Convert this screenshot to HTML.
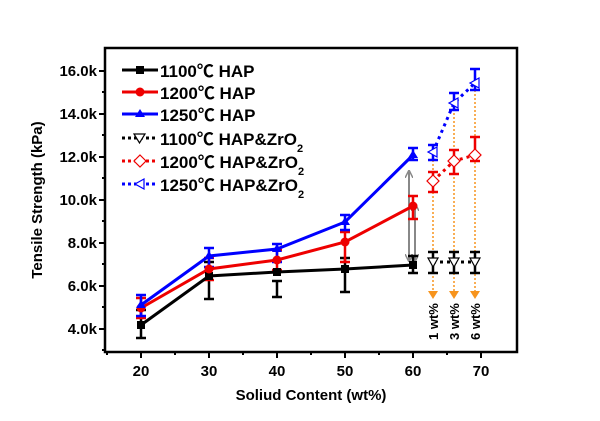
<!DOCTYPE html>
<html><head><meta charset="utf-8"><style>
body{margin:0;background:#fff}
svg{display:block;font-family:"Liberation Sans","Noto Sans CJK SC",sans-serif;font-weight:bold}
</style></head><body>
<svg width="600" height="421" viewBox="0 0 600 421">
<defs>
<marker id="ao" markerUnits="userSpaceOnUse" markerWidth="8" markerHeight="10" refX="4" refY="5" orient="auto"><path d="M0,0L8,5L0,10z" fill="#f7941d"/></marker>
<marker id="ag" markerUnits="userSpaceOnUse" markerWidth="8" markerHeight="8" refX="6" refY="4" orient="auto-start-reverse"><path d="M0,0L8,4L0,8" fill="none" stroke="#888" stroke-width="1.5"/></marker>
</defs>
<rect x="105" y="48" width="412" height="304" fill="none" stroke="#000" stroke-width="2.5"/>
<g stroke="#000" stroke-width="2">
<line x1="141" y1="352" x2="141" y2="358"/><line x1="209" y1="352" x2="209" y2="358"/><line x1="277" y1="352" x2="277" y2="358"/><line x1="345" y1="352" x2="345" y2="358"/><line x1="413" y1="352" x2="413" y2="358"/><line x1="481" y1="352" x2="481" y2="358"/>
<line x1="175" y1="352" x2="175" y2="355"/><line x1="243" y1="352" x2="243" y2="355"/><line x1="311" y1="352" x2="311" y2="355"/><line x1="379" y1="352" x2="379" y2="355"/><line x1="447" y1="352" x2="447" y2="355"/><line x1="107" y1="352" x2="107" y2="355"/>
<line x1="99" y1="71" x2="105" y2="71"/><line x1="99" y1="114" x2="105" y2="114"/><line x1="99" y1="157" x2="105" y2="157"/><line x1="99" y1="200" x2="105" y2="200"/><line x1="99" y1="243" x2="105" y2="243"/><line x1="99" y1="286" x2="105" y2="286"/><line x1="99" y1="329" x2="105" y2="329"/>
<line x1="102" y1="92" x2="105" y2="92"/><line x1="102" y1="135" x2="105" y2="135"/><line x1="102" y1="178" x2="105" y2="178"/><line x1="102" y1="221" x2="105" y2="221"/><line x1="102" y1="264" x2="105" y2="264"/><line x1="102" y1="307" x2="105" y2="307"/><line x1="102" y1="350" x2="105" y2="350"/>
</g>
<g font-size="15" text-anchor="middle">
<text x="141" y="376">20</text><text x="209" y="376">30</text><text x="277" y="376">40</text><text x="345" y="376">50</text><text x="413" y="376">60</text><text x="481" y="376">70</text>
</g>
<g font-size="15" text-anchor="end">
<text x="97" y="76">16.0k</text><text x="97" y="119">14.0k</text><text x="97" y="162">12.0k</text><text x="97" y="205">10.0k</text><text x="97" y="248">8.0k</text><text x="97" y="291">6.0k</text><text x="97" y="334">4.0k</text>
</g>
<text x="311" y="400" font-size="15" text-anchor="middle">Soliud Content (wt%)</text>
<text transform="translate(42,200) rotate(-90)" font-size="15" text-anchor="middle">Tensile Strength (kPa)</text>

<g stroke="#f7941d" stroke-width="1.5" stroke-dasharray="2,2" marker-end="url(#ao)">
<line x1="433" y1="152" x2="433" y2="295"/><line x1="454" y1="105" x2="454" y2="295"/><line x1="475" y1="70" x2="475" y2="295"/>
</g>
<g font-size="13" font-weight="bold">
<text transform="translate(438,340) rotate(-90)">1 wt%</text>
<text transform="translate(459,340) rotate(-90)">3 wt%</text>
<text transform="translate(480,340) rotate(-90)">6 wt%</text>
</g>
<g stroke="#888" stroke-width="2" marker-end="url(#ag)" marker-start="url(#ag)">
<line x1="409" y1="172" x2="409" y2="260"/><line x1="415" y1="205" x2="415" y2="260"/>
</g>

<g stroke-width="2.5">
<g stroke="#000"><path d="M141,310V338M136,310h10M136,338h10 M209,262V299M204,262h10M204,299h10 M277,281V297M272,281h10M272,297h10 M345,258V292M340,258h10M340,292h10 M413,256V273M408,256h10M408,273h10"/></g>
<g stroke="#e00"><path d="M141,298V318M136,298h10M136,318h10 M209,258V280M204,258h10M204,280h10 M277,250V270M272,250h10M272,270h10 M345,232V262M340,232h10M340,262h10 M413,196V219M408,196h10M408,219h10"/></g>
<g stroke="#00f"><path d="M141,295V316M136,295h10M136,316h10 M209,248V267M204,248h10M204,267h10 M277,244V262M272,244h10M272,262h10 M345,215V230M340,215h10M340,230h10 M413,148V160M408,148h10M408,160h10"/></g>
</g>
<polyline points="141,325 209,276 277,272 345,269 413,265" fill="none" stroke="#000" stroke-width="3"/>
<polyline points="141,308 209,269 277,260 345,242 413,206" fill="none" stroke="#e00" stroke-width="3"/>
<polyline points="141,305 209,256 277,249 345,222 413,155" fill="none" stroke="#00f" stroke-width="3"/>
<g fill="#000"><rect x="137" y="321" width="8" height="8"/><rect x="205" y="272" width="8" height="8"/><rect x="273" y="268" width="8" height="8"/><rect x="341" y="265" width="8" height="8"/><rect x="409" y="261" width="8" height="8"/></g>
<g fill="#e00"><circle cx="141" cy="308" r="4.5"/><circle cx="209" cy="269" r="4.5"/><circle cx="277" cy="260" r="4.5"/><circle cx="345" cy="242" r="4.5"/><circle cx="413" cy="206" r="4.5"/></g>
<g fill="#00f"><path d="M141,300l5,8h-10z M209,251l5,8h-10z M277,244l5,8h-10z M345,217l5,8h-10z M413,150l5,8h-10z"/></g>

<g stroke-width="2.5">
<g stroke="#000"><path d="M433,252V273M428,252h10M428,273h10 M454,252V273M449,252h10M449,273h10 M475,252V273M470,252h10M470,273h10"/></g>
<g stroke="#e00"><path d="M433,172V192M428,172h10M428,192h10 M454,150V174M449,150h10M449,174h10 M475,137V161M470,137h10M470,161h10"/></g>
<g stroke="#00f"><path d="M433,145V160M428,145h10M428,160h10 M454,93V110M449,93h10M449,110h10 M475,69V90M470,69h10M470,90h10"/></g>
</g>
<polyline points="433,262 454,262 475,262" fill="none" stroke="#000" stroke-width="3" stroke-dasharray="3,4"/>
<polyline points="433,181 454,161 475,155" fill="none" stroke="#e00" stroke-width="3" stroke-dasharray="3,4"/>
<polyline points="433,152 454,103 475,83" fill="none" stroke="#00f" stroke-width="3" stroke-dasharray="3,4"/>
<g fill="#fff" stroke-width="1.2">
<path stroke="#000" d="M428,258h10l-5,9z M449,258h10l-5,9z M470,258h10l-5,9z"/>
<path stroke="#e00" d="M433,175l6,6l-6,6l-6-6z M454,155l6,6l-6,6l-6-6z M475,149l6,6l-6,6l-6-6z"/>
<path stroke="#00f" d="M428,152l9,-5v10z M449,103l9,-5v10z M470,83l9,-5v10z"/>
</g>

<g font-size="17">
<line x1="122" y1="70" x2="158" y2="70" stroke="#000" stroke-width="3"/><rect x="136" y="66" width="8" height="8" fill="#000"/>
<text x="160" y="77">1100℃ HAP</text>
<line x1="122" y1="92" x2="158" y2="92" stroke="#e00" stroke-width="3"/><circle cx="140" cy="92" r="4.5" fill="#e00"/>
<text x="160" y="99">1200℃ HAP</text>
<line x1="122" y1="114" x2="158" y2="114" stroke="#00f" stroke-width="3"/><path d="M140,109l5,8h-10z" fill="#00f"/>
<text x="160" y="121">1250℃ HAP</text>
<line x1="122" y1="138" x2="158" y2="138" stroke="#000" stroke-width="3" stroke-dasharray="3,3"/><path d="M134,134h11l-5.5,9z" fill="#fff" stroke="#000" stroke-width="1.2"/>
<text x="160" y="145">1100℃ HAP&amp;ZrO<tspan font-size="11" dy="7">2</tspan></text>
<line x1="122" y1="161" x2="158" y2="161" stroke="#e00" stroke-width="3" stroke-dasharray="3,3"/><path d="M140,155l6,6l-6,6l-6-6z" fill="#fff" stroke="#e00" stroke-width="1.2"/>
<text x="160" y="168">1200℃ HAP&amp;ZrO<tspan font-size="11" dy="7">2</tspan></text>
<line x1="122" y1="184" x2="158" y2="184" stroke="#00f" stroke-width="3" stroke-dasharray="3,3"/><path d="M135,184l9,-5v10z" fill="#fff" stroke="#00f" stroke-width="1.2"/>
<text x="160" y="191">1250℃ HAP&amp;ZrO<tspan font-size="11" dy="7">2</tspan></text>
</g>
</svg>
</body></html>
